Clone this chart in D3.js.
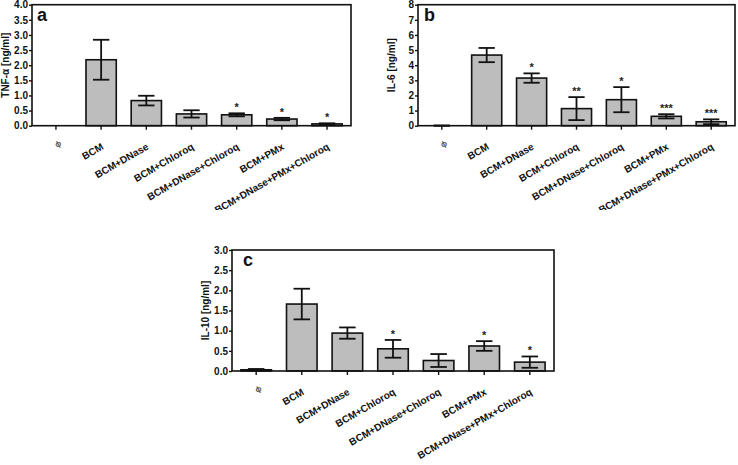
<!DOCTYPE html>
<html>
<head>
<meta charset="utf-8">
<script src="https://cdn.jsdelivr.net/npm/d3@7"></script>
<style>
  html, body { margin: 0; padding: 0; background: #fff; }
  svg { display: block; font-family: "Liberation Sans", Arial, sans-serif; }
</style>
</head>
<body>
<svg id="chart" width="738" height="465"></svg>
<script>
const categories = ["ϕ", "BCM", "BCM+DNase", "BCM+Chloroq", "BCM+DNase+Chloroq", "BCM+PMx", "BCM+DNase+PMx+Chloroq"];

const tnfMean  = [0, 2.18, 0.83, 0.39, 0.36, 0.22, 0.06];
const tnfErr   = [0, 0.66, 0.16, 0.12, 0.05, 0.04, 0.02];
const tnfStars = ["", "", "", "", "*", "*", "*"];
const tnfTicks = [0, 0.5, 1, 1.5, 2, 2.5, 3, 3.5, 4];

const il6Mean  = [0, 4.67, 3.15, 1.13, 1.72, 0.62, 0.26];
const il6Err   = [0.01, 0.47, 0.31, 0.76, 0.83, 0.14, 0.16];
const il6Stars = ["", "", "*", "**", "*", "***", "***"];
const il6Ticks = [0, 1, 2, 3, 4, 5, 6, 7, 8];

const il10Mean  = [0.03, 1.66, 0.94, 0.55, 0.26, 0.62, 0.22];
const il10Err   = [0.02, 0.38, 0.14, 0.22, 0.16, 0.12, 0.14];
const il10Stars = ["", "", "", "*", "", "*", "*"];
const il10Ticks = [0, 0.5, 1, 1.5, 2, 2.5, 3];

const svg = d3.select("#chart");

// the top row of the original figure is cropped just below its x labels
svg.append("defs").append("clipPath").attr("id", "topClip")
  .append("rect").attr("x", 0).attr("y", 0).attr("width", 738).attr("height", 210);

function panel(opts) {
  const { x0, x1, y0, y1, ticks, fmt, mean, err, stars, title, letter, letterPos, clip } = opts;
  const g = svg.append("g");
  if (clip) g.attr("clip-path", "url(#topClip)");
  const x = d3.scaleBand().domain(categories).range([x0, x1]).paddingInner(0.33).paddingOuter(0.195);
  const y = d3.scaleLinear().domain([0, ticks[ticks.length - 1]]).range([y0, y1]);
  const data = categories.map((c, i) => ({ c, m: mean[i], e: err[i], s: stars[i] }));

  // bars
  g.selectAll("rect.bar").data(data).join("rect")
    .attr("class", "bar")
    .attr("x", d => x(d.c))
    .attr("width", x.bandwidth())
    .attr("y", d => y(d.m))
    .attr("height", d => y(0) - y(d.m))
    .attr("fill", "#bdbdbd")
    .attr("stroke", "#111")
    .attr("stroke-width", 1.6);

  // error bars
  const cap = x.bandwidth() * 0.27;
  const eb = g.selectAll("g.eb").data(data.filter(d => d.e > 0)).join("g").attr("class", "eb")
    .attr("stroke", "#111").attr("stroke-width", 1.8);
  eb.append("line")
    .attr("x1", d => x(d.c) + x.bandwidth() / 2).attr("x2", d => x(d.c) + x.bandwidth() / 2)
    .attr("y1", d => y(d.m + d.e)).attr("y2", d => y(Math.max(0, d.m - d.e)));
  eb.append("line")
    .attr("x1", d => x(d.c) + x.bandwidth() / 2 - cap).attr("x2", d => x(d.c) + x.bandwidth() / 2 + cap)
    .attr("y1", d => y(d.m + d.e)).attr("y2", d => y(d.m + d.e));
  eb.append("line")
    .attr("x1", d => x(d.c) + x.bandwidth() / 2 - cap).attr("x2", d => x(d.c) + x.bandwidth() / 2 + cap)
    .attr("y1", d => y(Math.max(0, d.m - d.e))).attr("y2", d => y(Math.max(0, d.m - d.e)));

  // stars
  g.selectAll("text.star").data(data.filter(d => d.s)).join("text")
    .attr("class", "star")
    .attr("x", d => x(d.c) + x.bandwidth() / 2)
    .attr("y", d => y(d.m + d.e) - 2)
    .attr("text-anchor", "middle")
    .attr("font-size", 11).attr("font-weight", "bold").attr("fill", "#222")
    .text(d => d.s);

  // frame
  g.append("rect").attr("x", x0).attr("y", y1).attr("width", x1 - x0).attr("height", y0 - y1)
    .attr("fill", "none").attr("stroke", "#111").attr("stroke-width", 1.6);

  // y axis
  const ya = g.append("g").attr("transform", `translate(${x0},0)`)
    .call(d3.axisLeft(y).tickValues(ticks).tickFormat(fmt).tickSize(3).tickPadding(1));
  ya.select(".domain").remove();
  ya.selectAll("line").attr("stroke", "#111").attr("stroke-width", 1.4);
  ya.selectAll("text").attr("font-size", 10).attr("font-weight", "bold").attr("fill", "#111")
    .attr("font-family", "Liberation Sans, Arial, sans-serif");

  // x axis
  const xa = g.append("g").attr("transform", `translate(0,${y0})`)
    .call(d3.axisBottom(x).tickSize(4).tickPadding(0));
  xa.select(".domain").remove();
  xa.selectAll("line").attr("stroke", "#111").attr("stroke-width", 1.4);
  xa.selectAll("text")
    .attr("font-size", d => d === "ϕ" ? 8 : 10).attr("font-weight", "bold").attr("fill", d => d === "ϕ" ? "#555" : "#111")
    .attr("font-family", "Liberation Sans, Arial, sans-serif")
    .attr("text-anchor", "end")
    .attr("dy", null)
    .attr("y", null)
    .attr("transform", d => d === "ϕ" ? "translate(6,19) rotate(-30)" : "translate(3,23) rotate(-30)");

  // y title
  g.append("text")
    .attr("transform", `translate(${x0 - 23},${(y0 + y1) / 2}) rotate(-90)`)
    .attr("text-anchor", "middle")
    .attr("font-size", 10).attr("font-weight", "bold").attr("fill", "#111")
    .text(title);

  // panel letter
  g.append("text").attr("x", letterPos[0]).attr("y", letterPos[1])
    .attr("font-size", 18).attr("font-weight", "bold").attr("fill", "#111")
    .text(letter);
}

panel({ x0: 32, x1: 351, y0: 125.7, y1: 4.7, ticks: tnfTicks, fmt: d3.format(".1f"),
        mean: tnfMean, err: tnfErr, stars: tnfStars, title: "TNF-α [ng/ml]", letter: "a", letterPos: [37, 21], clip: true });
panel({ x0: 418, x1: 735, y0: 125.7, y1: 4.7, ticks: il6Ticks, fmt: d3.format("d"),
        mean: il6Mean, err: il6Err, stars: il6Stars, title: "IL-6 [ng/ml]", letter: "b", letterPos: [424, 21], clip: true });
panel({ x0: 232, x1: 554, y0: 371, y1: 250, ticks: il10Ticks, fmt: d3.format(".1f"),
        mean: il10Mean, err: il10Err, stars: il10Stars, title: "IL-10 [ng/ml]", letter: "c", letterPos: [243, 266], clip: false });
</script>
</body>
</html>
